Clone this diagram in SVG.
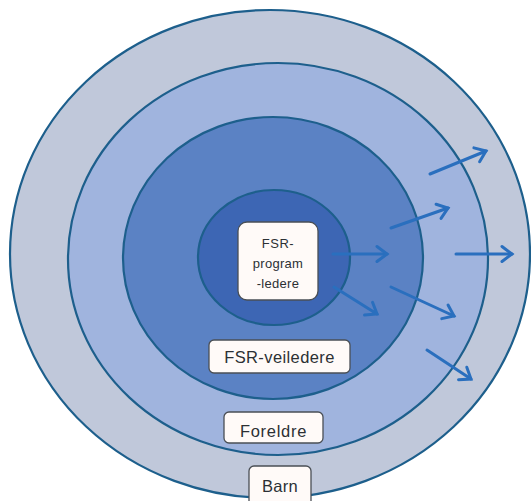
<svg xmlns="http://www.w3.org/2000/svg" width="531" height="501" viewBox="0 0 531 501">
  <defs>
    <style>
      .ring { stroke: #1d5f8c; stroke-width: 2.2; }
      .box { fill: #fffaf8; stroke: #4a4f55; stroke-width: 1.3; }
      .lbl { font-family: "Liberation Sans", "DejaVu Sans", sans-serif; fill: #2c3034; text-anchor: middle; }
      .arr { stroke: #2a6fbe; stroke-width: 3; fill: none; stroke-linecap: round; marker-end: url(#head); }
    </style>
    <marker id="head" markerUnits="userSpaceOnUse" markerWidth="20" markerHeight="20" viewBox="-12 -10 16 20" refX="0" refY="0" orient="auto">
      <path d="M -10 -7.5 L 0 0 L -10 7.5" fill="none" stroke="#2a6fbe" stroke-width="3" stroke-linecap="round" stroke-linejoin="miter"/>
    </marker>
  </defs>
  <rect width="531" height="501" fill="#ffffff"/>

  <g id="ring-barn">
    <ellipse class="ring" cx="270" cy="254" rx="260" ry="244" fill="#c0c8da"/>
  </g>
  <g id="ring-foreldre">
    <ellipse class="ring" cx="278" cy="259" rx="210" ry="196" fill="#a0b4de"/>
  </g>
  <g id="ring-veiledere">
    <ellipse class="ring" cx="273" cy="258" rx="150" ry="141" fill="#5b82c4"/>
  </g>
  <g id="ring-programledere">
    <ellipse class="ring" cx="274" cy="257.5" rx="76" ry="67.5" fill="#3d66b4"/>
  </g>

  <g id="connectors">
    <line class="arr" x1="430" y1="174" x2="486" y2="151"/>
    <line class="arr" x1="391" y1="228" x2="448" y2="208"/>
    <line class="arr" x1="333" y1="254" x2="387" y2="254"/>
    <line class="arr" x1="456" y1="254" x2="512" y2="254"/>
    <line class="arr" x1="334" y1="287" x2="377" y2="314"/>
    <line class="arr" x1="391" y1="287" x2="454" y2="316"/>
    <line class="arr" x1="427" y1="350" x2="471" y2="379"/>
  </g>

  <g id="node-programledere">
    <rect class="box" x="238" y="222" width="80" height="78" rx="9"/>
    <text class="lbl" x="278" y="248" font-size="13" letter-spacing="0.5">FSR-</text>
    <text class="lbl" x="278" y="268" font-size="13" letter-spacing="0.3">program</text>
    <text class="lbl" x="278" y="288" font-size="13" letter-spacing="0.3">-ledere</text>
  </g>
  <g id="node-veiledere">
    <rect class="box" x="209" y="340" width="141" height="33" rx="5"/>
    <text class="lbl" x="279.5" y="363" font-size="16.5" letter-spacing="0.4">FSR-veiledere</text>
  </g>
  <g id="node-foreldre">
    <rect class="box" x="224" y="412" width="99" height="31" rx="5"/>
    <text class="lbl" x="273.5" y="437" font-size="16.5" letter-spacing="0.7">Foreldre</text>
  </g>
  <g id="node-barn">
    <rect class="box" x="249" y="466" width="62" height="40" rx="5"/>
    <text class="lbl" x="280" y="492" font-size="16.5" letter-spacing="0.3">Barn</text>
  </g>
</svg>
